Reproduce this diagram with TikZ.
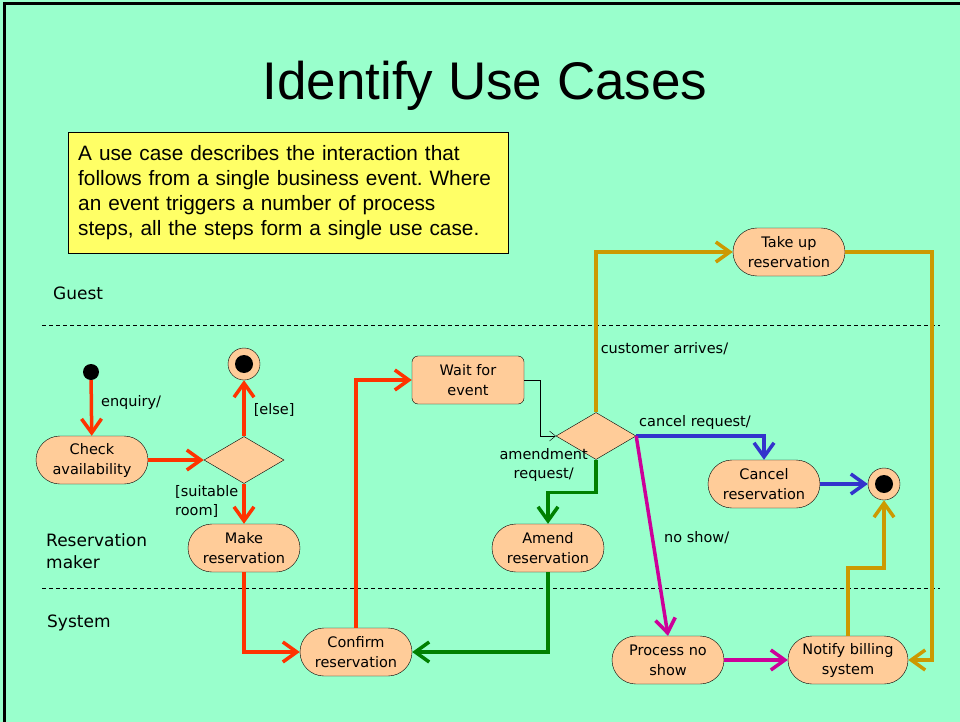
\documentclass[tikz,border=0pt]{standalone}
\usepackage{fontspec}
\newfontfamily\comic{DejaVu Sans}
\newfontfamily\arial{Liberation Sans}
\usetikzlibrary{arrows.meta, shapes.geometric}
\definecolor{slide}{RGB}{153,255,204}
\definecolor{peach}{RGB}{255,204,153}
\definecolor{note}{RGB}{255,255,102}
\definecolor{redflow}{RGB}{255,51,0}
\definecolor{goldflow}{RGB}{204,153,0}
\definecolor{blueflow}{RGB}{51,51,204}
\definecolor{greenflow}{RGB}{0,128,0}
\definecolor{pinkflow}{RGB}{204,0,153}
\frenchspacing
\tikzset{
    action/.style={draw, thin, fill=peach, rounded corners=24pt, minimum width=112pt, minimum height=48pt, align=center, inner sep=2pt, font=\comic\fontsize{14.5}{20}\selectfont}, % the rounded activity boxes
    waitbox/.style={action, rounded corners=6pt}, % the one box with small corners
    decision/.style={diamond, draw, thin, fill=peach, minimum width=80pt, minimum height=47pt, inner sep=0pt}, % branch points
    initdot/.style={circle, fill=black, minimum size=16pt, inner sep=0pt}, % start of the flow
    final/.style={circle, draw, thin, fill=peach, minimum size=32pt, inner sep=0pt,
        path picture={\fill[black] (path picture bounding box.center) circle (9pt);}}, % end of the flow
    flow/.style={line width=3.5pt, -{Straight Barb[length=14pt,width=20pt]}}, % thick coloured connectors
    lbl/.style={font=\comic\fontsize{14.5}{19}\selectfont, inner sep=2pt}, % connector labels
    lane/.style={font=\comic\fontsize{17}{22}\selectfont, align=left, inner sep=0pt}, % swimlane names
    lanesep/.style={thin, dash pattern=on 4pt off 3pt}, % swimlane borders
}
\begin{document}
\begin{tikzpicture}[x=1pt, y=-1pt]
\useasboundingbox (0,0) rectangle (960,722);
\fill[slide] (0,0) rectangle (960,722);
\draw[line width=3pt] (4,722) -- (4,4) -- (960,4);

% title and note
\node[font=\arial\fontsize{53}{60}\selectfont] (title) at (485,86) {Identify Use Cases};
\node[draw, thin, fill=note, anchor=north west, text width=420pt, minimum height=121pt, inner xsep=10pt, align=left,
      font=\arial\fontsize{20.8}{25}\selectfont] (notebox) at (68,132)
      {A use case describes the interaction that\\
       follows from a single business event. Where\\
       an event triggers a number of process\\
       steps, all the steps form a single use case.};

% swimlanes
\draw[lanesep] (42,325) -- (940,325);
\draw[lanesep] (42,588) -- (940,588);
\node[lane, anchor=base west] (guest) at (53,299) {Guest};
\node[lane, anchor=west] (maker) at (46,551) {Reservation\\maker};
\node[lane, anchor=base west] (system) at (47,627) {System};

% states
\node[initdot] (start) at (91,372) {};
\node[action] (check) at (92,460) {Check\\availability};
\node[decision] (choice) at (244,460) {};
\node[final] (stop) at (244,364) {};
\node[action] (make) at (244,548) {Make\\reservation};
\node[action] (confirm) at (356,652) {Confirm\\reservation};
\node[waitbox] (wait) at (468,380) {Wait for\\event};
\node[decision] (event) at (596,436) {};
\node[action] (amend) at (548,548) {Amend\\reservation};
\node[action] (takeup) at (789,252) {Take up\\reservation};
\node[action] (cancel) at (764,484) {Cancel\\reservation};
\node[final] (done) at (884,484) {};
\node[action] (noshow) at (668,660) {Process no\\show};
\node[action, minimum width=120pt] (billing) at (848,660) {Notify billing\\system};

% transitions
\draw[flow, redflow] (start) -- node[lbl, pos=0.4, anchor=west, xshift=6pt, text=black] {enquiry/} (check);
\draw[flow, redflow] (check) -- (choice);
\draw[flow, redflow] (choice.north) -- node[lbl, pos=0.47, anchor=west, xshift=6pt, text=black] {[else]} (stop.south);
\draw[flow, redflow] (choice.south) -- node[lbl, pos=0.45, anchor=east, align=left, xshift=-2pt, text=black] {[suitable\\room]} (make.north);
\draw[flow, redflow] (make.south) |- (confirm.west);
\draw[flow, redflow] (confirm.north) |- (wait.west);
\draw[thin, -{Straight Barb[length=6pt,width=10pt]}] (wait.east) -- ++(16,0) |- (event.west);
\draw[flow, goldflow] (event.north) |- node[lbl, pos=0.2, anchor=west, xshift=1pt, text=black] {customer arrives/} (takeup.west);
\draw[flow, goldflow] (takeup.east) -- ++(87,0) |- (billing.east);
\draw[flow, blueflow] (event.east) -| node[lbl, pos=0.23, above=3pt, text=black] {cancel request/} (cancel.north);
\draw[flow, blueflow] (cancel.east) -- (done.west);
\draw[flow, greenflow] (event.south) -- ++(0,33) -| (amend.north);
\node[lbl, align=center, anchor=north east] (amendlbl) at ([shift={(-6pt,13pt)}]event.south) {amendment\\request/};
\draw[flow, greenflow] (amend.south) |- (confirm.east);
\draw[flow, pinkflow] (event.east) -- node[lbl, pos=0.51, anchor=west, xshift=8pt, text=black] {no show/} (noshow.north);
\draw[flow, pinkflow] (noshow.east) -- (billing.west);
\draw[flow, goldflow] (billing.north) -- ++(0,-68) -| (done.south);
\end{tikzpicture}
\end{document}
